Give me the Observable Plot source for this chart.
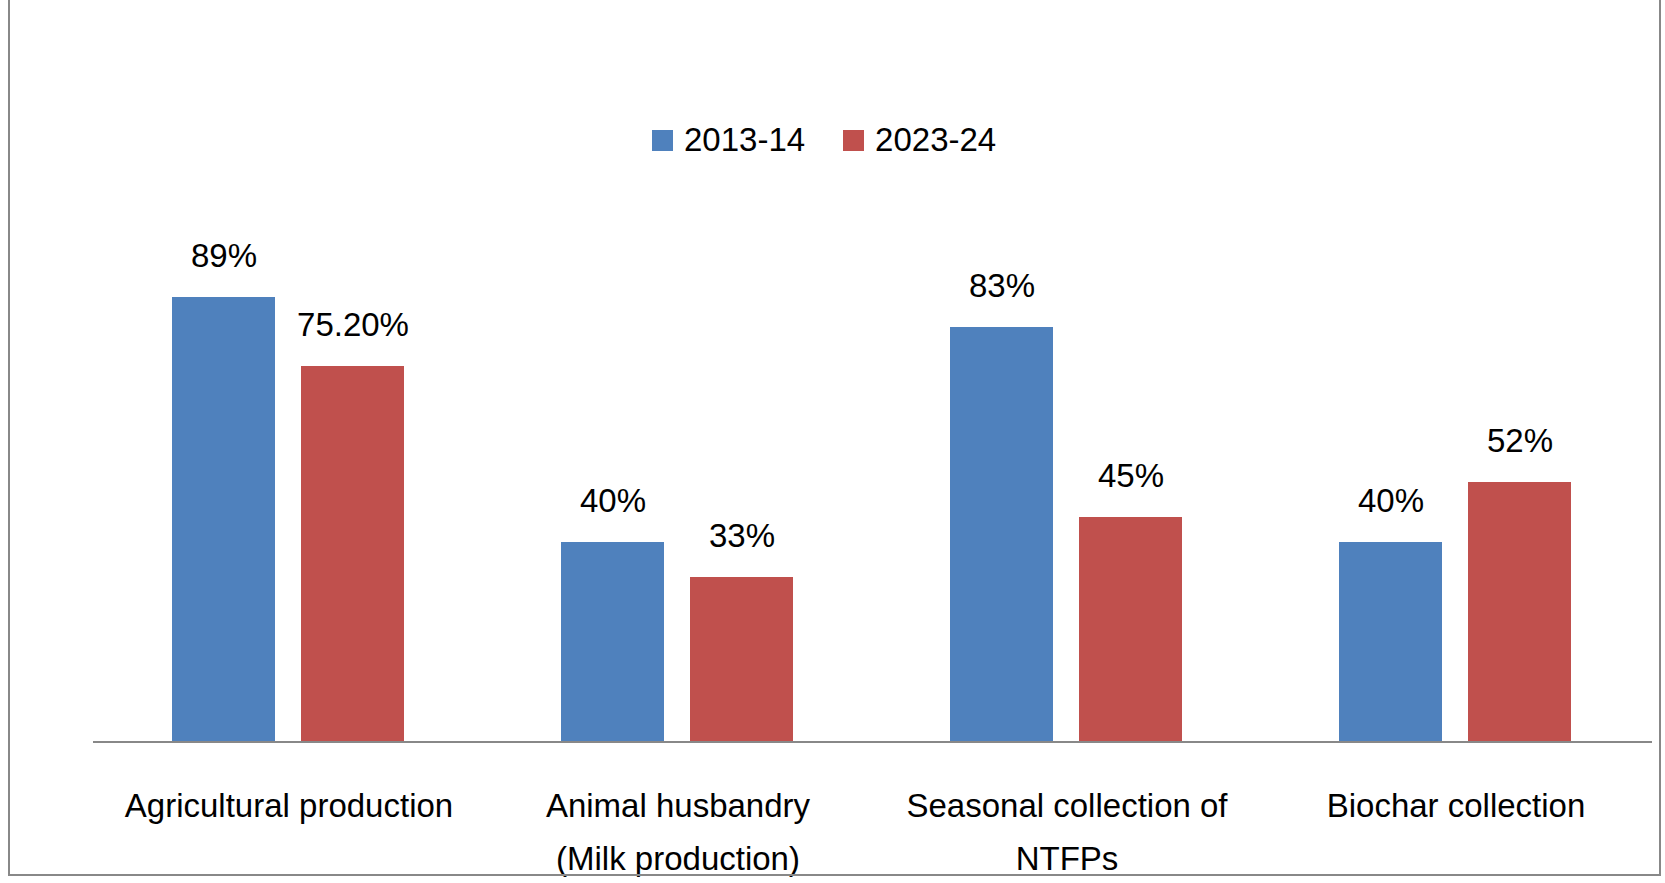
<!DOCTYPE html>
<html><head><meta charset="utf-8">
<script src="https://cdn.jsdelivr.net/npm/d3@7"></script>
<script src="https://cdn.jsdelivr.net/npm/@observablehq/plot@0.6"></script>
<style>
body{margin:0;background:#fff;font-family:"Liberation Sans",Arial,sans-serif;}
#wrap{position:relative;width:1665px;height:883px;}
#frame{position:absolute;left:8px;top:-2px;width:1653px;height:878px;border:2px solid #888;box-sizing:border-box;}
#base{position:absolute;left:93px;top:741px;width:1559px;height:0;border-top:2px solid #888;}
#legend{position:absolute;top:121px;left:652px;font-size:33px;color:#000;display:flex;align-items:center;}
#legend span.sw{display:inline-block;width:21px;height:21px;margin-right:11px;}
</style></head><body>
<div id="wrap"><div id="frame"></div><div id="legend"></div><div id="chart"></div><div id="base"></div></div>
<script>
const categories = ["Agricultural production","Animal husbandry\n(Milk production)","Seasonal collection of\nNTFPs","Biochar collection"];
const series = ["2013-14","2023-24"];
const values2013 = [89,40,83,40];
const values2023 = [75.2,33,45,52];
const labels2013 = ["89%","40%","83%","40%"];
const labels2023 = ["75.20%","33%","45%","52%"];
const colors = ["#4F81BD","#C0504D"];

const data = [];
categories.forEach((c,i)=>{
  data.push({cat:c,ser:series[0],v:values2013[i],lab:labels2013[i]});
  data.push({cat:c,ser:series[1],v:values2023[i],lab:labels2023[i]});
});

const lg = document.getElementById("legend");
series.forEach((s,i)=>{
  const sw=document.createElement("span");sw.className="sw";sw.style.background=colors[i];
  const t=document.createElement("span");t.textContent=s;t.style.marginRight=i==0?"38px":"0";
  lg.appendChild(sw);lg.appendChild(t);
});

const chart = Plot.plot({
  width:1665,height:883,
  marginLeft:93,marginRight:13,marginTop:242,marginBottom:141,
  style:{fontFamily:"Liberation Sans, Arial, sans-serif",fontSize:"33px",color:"#000",background:"transparent"},
  fx:{domain:categories,paddingInner:0.4,paddingOuter:0.2,label:null,axis:null},
  x:{domain:series,paddingInner:0.2,paddingOuter:0,axis:null},
  y:{domain:[0,100],axis:null},
  color:{domain:series,range:colors},
  marks:[
    Plot.barY(data,{fx:"cat",x:"ser",y:"v",fill:"ser"}),
    Plot.text(data,{fx:"cat",x:"ser",y:"v",text:"lab",dy:-41,fontSize:33,fill:"#000"}),
    Plot.axisFx({anchor:"bottom",tickSize:0,tickPadding:37,fontSize:33,lineHeight:1.6,label:null,textAnchor:"middle"})
  ]
});
document.getElementById("chart").appendChild(chart);
</script></body></html>
